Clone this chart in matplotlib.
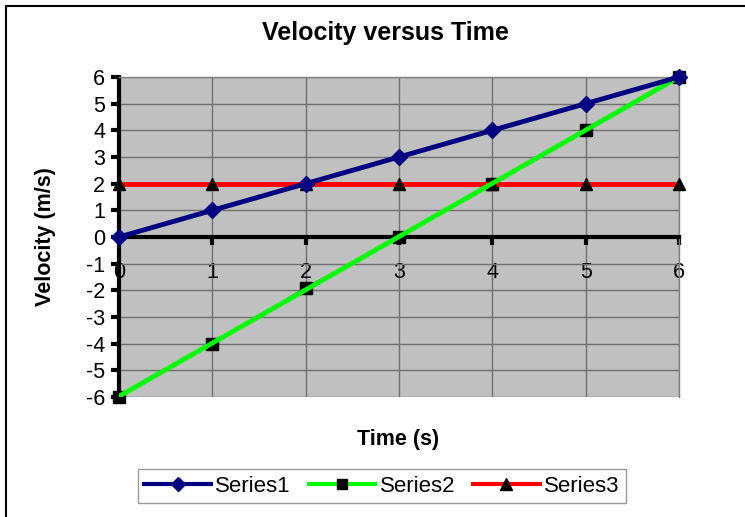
import numpy as np
import matplotlib
matplotlib.use("Agg")
import matplotlib.pyplot as plt
from matplotlib.patches import Rectangle

plt.rcParams['font.family'] = ['Liberation Sans', 'DejaVu Sans']
plt.rcParams['axes.unicode_minus'] = False

# данные
time = [0, 1, 2, 3, 4, 5, 6]
series1 = [0, 1, 2, 3, 4, 5, 6]
series2 = [-6, -4, -1.9, 0, 2, 4, 6]
series3 = [2, 2, 2, 2, 2, 2, 2]
y_ticks = [-6, -5, -4, -3, -2, -1, 0, 1, 2, 3, 4, 5, 6]

fig = plt.figure(figsize=(7.45, 5.17), dpi=100)

# рамка вокруг всей диаграммы
fig.patches.append(Rectangle((6 / 745, -0.1), 1.2, 1.1 - 6 / 517, transform=fig.transFigure,
                             fill=False, edgecolor='black', linewidth=1.5))

ax = fig.add_axes([119 / 745, 1 - 397 / 517, 560 / 745, 320 / 517])
ax.set_facecolor('#c0c0c0')
ax.set_xlim(0, 6)
ax.set_ylim(-6, 6)
ax.set_xticks(time)
ax.set_yticks(y_ticks)
ax.grid(True, color='#707070', linewidth=1)
ax.set_axisbelow(True)

# оси в стиле Excel: ось X проходит через ноль
ax.spines['bottom'].set_position(('data', 0))
ax.spines['bottom'].set_linewidth(3)
ax.spines['left'].set_linewidth(3)
for s in ['top', 'right']:
    ax.spines[s].set_color('#808080')
    ax.spines[s].set_linewidth(1)
ax.tick_params(axis='x', direction='out', length=6, width=3, pad=12, labelsize=15.5)
ax.tick_params(axis='y', direction='out', length=6, width=3, pad=4, labelsize=15.5)

# серия 2: маркеры и тонкая линия, зелёная линия тренда
ax.plot(time, series2, color='black', linewidth=1, marker='s', markersize=8,
        markerfacecolor='black', clip_on=False, zorder=3)
k, b = np.polyfit(time, series2, 1)
ax.plot(time, np.polyval([k, b], time), color='#00ff00', linewidth=3.5, zorder=4)

ax.plot(time, series3, color='#ff0000', linewidth=3.5, marker='^', markersize=9,
        markerfacecolor='black', markeredgecolor='black', clip_on=False, zorder=3)
ax.plot(time, series1, color='#000080', linewidth=3.5, marker='D', markersize=8,
        clip_on=False, zorder=5)

fig.text(385 / 745, 1 - 33 / 517, 'Velocity versus Time', ha='center', va='center',
         fontsize=18, fontweight='bold')
fig.text(398 / 745, 1 - 440 / 517, 'Time (s)', ha='center', va='center',
         fontsize=15.5, fontweight='bold')
fig.text(45 / 745, 1 - 237 / 517, 'Velocity (m/s)', ha='center', va='center',
         rotation=90, fontsize=15.5, fontweight='bold')

# легенда
h1 = plt.Line2D([], [], color='#000080', linewidth=3, marker='D', markersize=7)
h2 = plt.Line2D([], [], color='#00ff00', linewidth=3, marker='s', markersize=7,
                markerfacecolor='black', markeredgecolor='black')
h3 = plt.Line2D([], [], color='#ff0000', linewidth=3, marker='^', markersize=8,
                markerfacecolor='black', markeredgecolor='black')
leg = fig.legend([h1, h2, h3], ['Series1', 'Series2', 'Series3'], ncol=3,
                 loc='center', bbox_to_anchor=(382 / 745, 1 - 486 / 517),
                 fontsize=16, frameon=True, fancybox=False, handlelength=3,
                 handletextpad=0.2, columnspacing=0.8, borderpad=0.3)
leg.get_frame().set_edgecolor('#808080')
leg.get_frame().set_linewidth(1)

fig.savefig('out.png', dpi=100)
